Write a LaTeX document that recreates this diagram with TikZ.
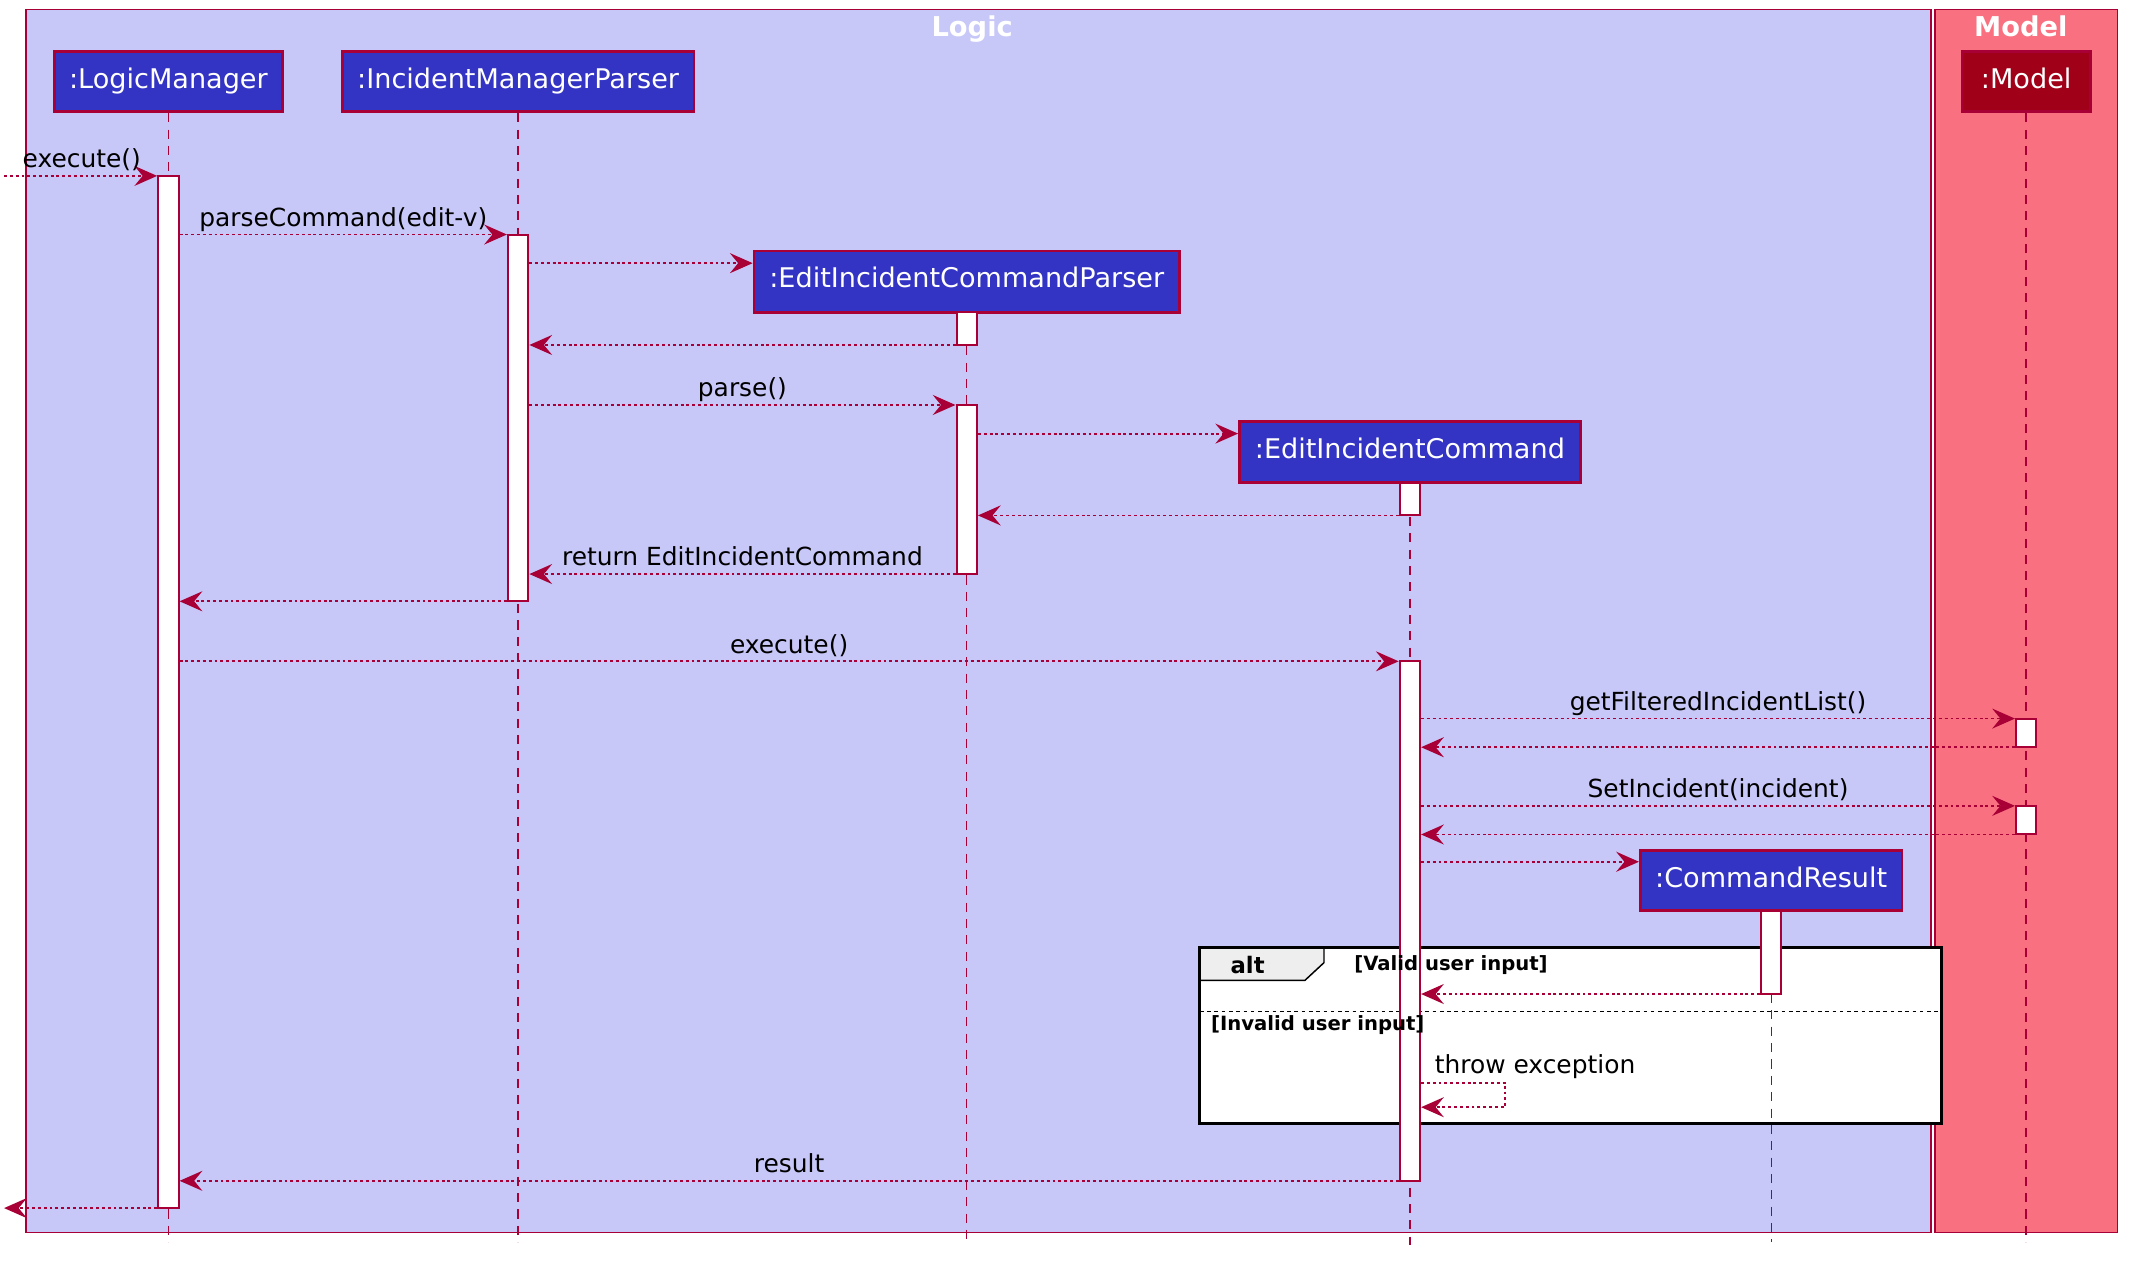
\documentclass[tikz,border=0pt]{standalone}
\usepackage{fontspec}
\setmainfont{DejaVu Sans}
\usetikzlibrary{arrows.meta,fit}
\definecolor{bd}{RGB}{168,0,54}
\definecolor{logicbg}{RGB}{200,200,248}
\definecolor{modelbg}{RGB}{249,113,128}
\definecolor{partbg}{RGB}{51,51,196}
\definecolor{modelpart}{RGB}{160,0,24}
\definecolor{tabbg}{RGB}{238,238,238}
\newcommand\actbox[4]{\node[act, fit={(#2-7.5,#3) (#2+7.5,#4)}] (#1) {};}
\begin{document}
\begin{tikzpicture}[x=0.75pt,y=-0.75pt,
 part/.style={draw=bd, line width=1.5pt, fill=partbg, text=white, font=\fontsize{14.9}{17}\selectfont, inner sep=0, text height=0.7em, text depth=0pt},
 lifeline/.style={draw=bd, line width=0.8pt, dash pattern=on 5pt off 4pt},
 act/.style={draw=bd, line width=1.1pt, fill=white, inner sep=0},
 msg/.style={draw=bd, line width=1pt, dash pattern=on 1.6pt off 1.6pt, -{Stealth[length=12.5pt,width=11pt,inset=4.5pt]}},
 lbl/.style={font=\fontsize{13.7}{16}\selectfont, inner sep=0, anchor=base},
 ftitle/.style={font=\bfseries\fontsize{15}{18}\selectfont, text=white, inner sep=0, anchor=base},
 guard/.style={font=\bfseries\fontsize{10.8}{13}\selectfont, inner sep=0, anchor=west},
 frameline/.style={draw=bd, line width=0.9pt}]
\useasboundingbox (0,0) rectangle (1568,929);
% frames
\draw[frameline, fill=logicbg] (19,7) rectangle (1416,904);
\draw[frameline, fill=modelbg] (1419,7) rectangle (1553,904);
\node[ftitle] (tLogic) at (713,27) {Logic};
\node[ftitle] (tModel) at (1482,27) {Model};
% alt fragment
\fill[white] (880,695) rectangle (1424,824);
\draw[black, line width=0.8pt, fill=tabbg] (880,695) -- (971,695) -- (971,706) -- (957,719) -- (880,719) -- cycle;
\draw[black, line width=0.8pt, dash pattern=on 2pt off 2pt] (880,742) -- (1424,742);
\draw[black, line width=1.7pt] (880,695) rectangle (1424,824);
\node[font=\bfseries\fontsize{12.5}{15}\selectfont, inner sep=0] (altk) at (915,708) {alt};
% participants
\node[part, minimum width=167*0.75pt, minimum height=44*0.75pt] (lm) at (123.5,60) {:LogicManager};
\node[part, minimum width=258*0.75pt, minimum height=44*0.75pt] (imp) at (380,60) {:IncidentManagerParser};
\node[part, minimum width=312*0.75pt, minimum height=45*0.75pt] (eicp) at (709,206.5) {:EditIncidentCommandParser};
\node[part, minimum width=250*0.75pt, minimum height=45*0.75pt] (eic) at (1034,331.5) {:EditIncidentCommand};
\node[part, minimum width=192*0.75pt, minimum height=44*0.75pt] (cr) at (1299,646) {:CommandResult};
\node[part, fill=modelpart, minimum width=94*0.75pt, minimum height=44*0.75pt] (model) at (1486,60) {:Model};
% lifelines
\coordinate (lmEnd) at (123.5,911);
\coordinate (impEnd) at (380,911);
\coordinate (eicpEnd) at (709,911);
\coordinate (eicEnd) at (1034,913);
\coordinate (crEnd) at (1299,911);
\coordinate (modelEnd) at (1486,911);
\draw[lifeline] (lm.south) -- (lmEnd);
\draw[lifeline] (imp.south) -- (impEnd);
\draw[lifeline] (eicp.south) -- (eicpEnd);
\draw[lifeline] (eic.south) -- (eicEnd);
\draw[lifeline] (cr.south) -- (crEnd);
\draw[lifeline] (model.south) -- (modelEnd);
% activations
\actbox{lmA}{123.5}{129}{886}
\actbox{impA}{380}{172}{441}
\actbox{eicpA1}{709}{229}{253}
\actbox{eicpA2}{709}{297}{421}
\actbox{eicA1}{1034}{354}{378}
\actbox{eicA2}{1034}{485}{866}
\actbox{mA1}{1486}{527}{548}
\actbox{mA2}{1486}{591}{612}
\actbox{crA}{1299}{668}{729}
% guards
\node[guard] (g1) at (993,708) {[Valid user input]};
\node[guard] (g2) at (888,752) {[Invalid user input]};
% messages
\coordinate (found) at (3,129);
\coordinate (lost) at (3,886);
\draw[msg] (found) -- (found -| lmA.west);
\node[lbl] (l0) at (60,123) {execute()};
\draw[msg] (lmA.east |- 0,172) -- node[lbl, yshift=4.5pt] (l1) {parseCommand(edit-v)} (impA.west |- 0,172);
\draw[msg] (impA.east |- 0,193) -- (eicp.west |- 0,193);
\draw[msg] (eicpA1.west |- 0,253) -- (impA.east |- 0,253);
\draw[msg] (impA.east |- 0,297) -- node[lbl, yshift=4.5pt] (l2) {parse()} (eicpA2.west |- 0,297);
\draw[msg] (eicpA2.east |- 0,318) -- (eic.west |- 0,318);
\draw[msg] (eicA1.west |- 0,378) -- (eicpA2.east |- 0,378);
\draw[msg] (eicpA2.west |- 0,421) -- node[lbl, yshift=4.5pt] (l3) {return EditIncidentCommand} (impA.east |- 0,421);
\draw[msg] (impA.west |- 0,441) -- (lmA.east |- 0,441);
\draw[msg] (lmA.east |- 0,485) -- node[lbl, yshift=4.5pt] (l4) {execute()} (eicA2.west |- 0,485);
\draw[msg] (eicA2.east |- 0,527) -- node[lbl, yshift=4.5pt] (l5) {getFilteredIncidentList()} (mA1.west |- 0,527);
\draw[msg] (mA1.west |- 0,548) -- (eicA2.east |- 0,548);
\draw[msg] (eicA2.east |- 0,591) -- node[lbl, yshift=4.5pt] (l6) {SetIncident(incident)} (mA2.west |- 0,591);
\draw[msg] (mA2.west |- 0,612) -- (eicA2.east |- 0,612);
\draw[msg] (eicA2.east |- 0,632) -- (cr.west |- 0,632);
\draw[msg] (crA.west |- 0,729) -- (eicA2.east |- 0,729);
\coordinate (selfA) at (1104,794);
\coordinate (selfB) at (1104,812);
\draw[msg] (eicA2.east |- 0,794) -- (selfA) -- (selfB) -- (eicA2.east |- 0,812);
\node[lbl, anchor=base west] (l7) at (1052,787) {throw exception};
\draw[msg] (eicA2.west |- 0,866) -- node[lbl, yshift=4.5pt] (l8) {result} (lmA.east |- 0,866);
\draw[msg] (lmA.west |- 0,886) -- (lost);
\end{tikzpicture}
\end{document}
